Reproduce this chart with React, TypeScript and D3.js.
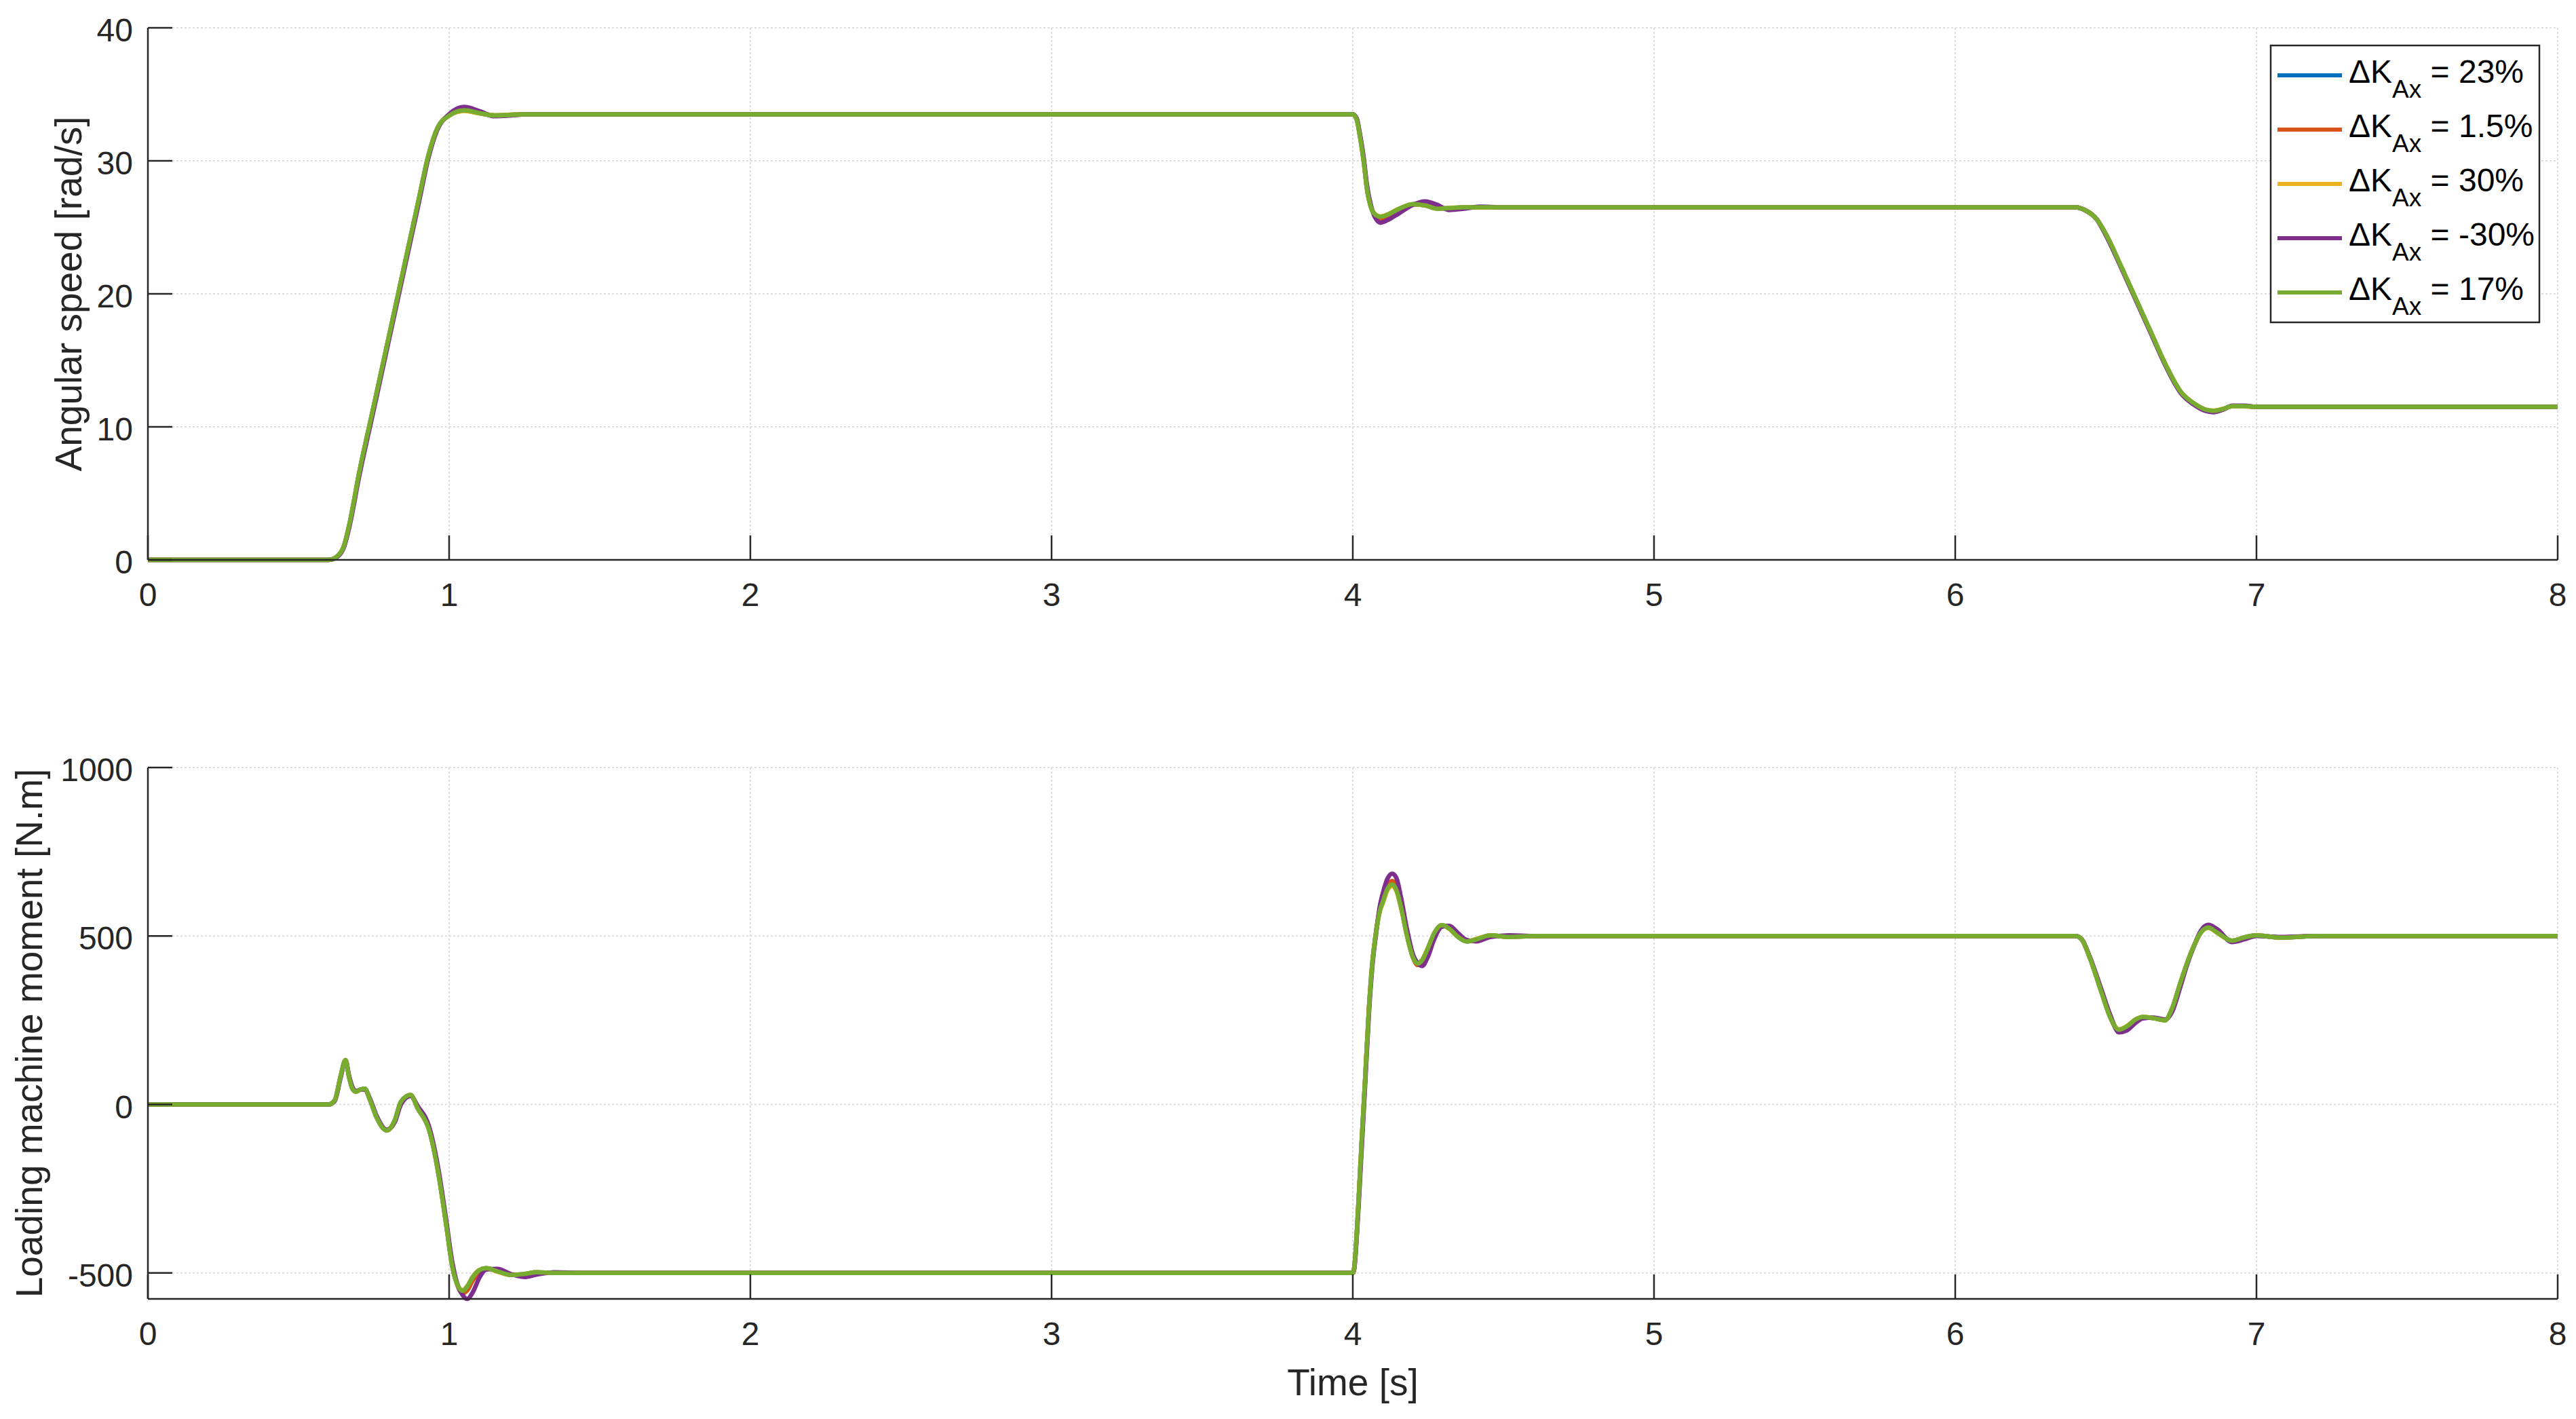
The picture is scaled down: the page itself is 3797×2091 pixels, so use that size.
import React from "react";
import * as d3 from "d3";

// ---------------- data ----------------
const seriesLabels = ["23%", "1.5%", "30%", "-30%", "17%"];
const seriesColors = ["#0072BD", "#D95319", "#EDB120", "#7E2F8E", "#77AC30"];

const xTicks = [0, 1, 2, 3, 4, 5, 6, 7, 8];
const speedTicks = [0, 10, 20, 30, 40];
const torqueTicks = [-500, 0, 500, 1000];
const speedDomain = [0, 40];
const torqueDomain = [-577, 1000];
const timeDomain = [0, 8];

const timeSpeed = [
  0, 0.6, 0.63, 0.65, 0.67, 0.7, 0.75, 0.8, 0.85, 0.9, 0.93, 0.96, 1.0, 1.05, 1.1, 1.15, 1.2, 1.25, 1.3,
  4.0, 4.013, 4.024, 4.036, 4.047, 4.062, 4.075, 4.092, 4.12, 4.15, 4.2, 4.24, 4.28, 4.32, 4.37, 4.42, 4.5,
  6.4, 6.43, 6.47, 6.5, 6.55, 6.6, 6.65, 6.7, 6.75, 6.79, 6.83, 6.856, 6.89, 6.92, 6.96, 7.0, 7.1, 8.0,
];

const speed23 = [
  0, 0, 0.3, 1.0, 2.8, 6.4, 11.6, 16.8, 22.0, 27.2, 30.3, 32.4, 33.4, 33.78, 33.58, 33.42, 33.46, 33.5, 33.5,
  33.5, 33.1, 31.8, 30.0, 27.9, 26.4, 25.92, 25.78, 25.98, 26.33, 26.74, 26.66, 26.42, 26.44, 26.5, 26.5, 26.5,
  26.5, 26.3, 25.6, 24.5, 22.1, 19.6, 17.1, 14.6, 12.6, 11.8, 11.3, 11.2, 11.35, 11.55, 11.55, 11.5, 11.5, 11.5,
];
const speed15 = [
  0, 0, 0.28, 0.95, 2.7, 6.3, 11.5, 16.7, 21.9, 27.1, 30.2, 32.35, 33.45, 33.9, 33.65, 33.4, 33.42, 33.5, 33.5,
  33.5, 33.15, 31.9, 30.1, 28.0, 26.45, 25.85, 25.65, 25.85, 26.2, 26.72, 26.75, 26.5, 26.4, 26.48, 26.52, 26.5,
  26.5, 26.3, 25.6, 24.45, 22.05, 19.55, 17.05, 14.55, 12.55, 11.75, 11.25, 11.15, 11.32, 11.57, 11.57, 11.5, 11.5, 11.5,
];
const speed30 = [
  0, 0, 0.3, 1.0, 2.8, 6.4, 11.6, 16.8, 22.0, 27.2, 30.3, 32.4, 33.4, 33.75, 33.57, 33.43, 33.47, 33.5, 33.5,
  33.5, 33.1, 31.8, 30.0, 27.9, 26.4, 25.97, 25.82, 26.02, 26.36, 26.74, 26.64, 26.42, 26.46, 26.5, 26.5, 26.5,
  26.5, 26.3, 25.6, 24.5, 22.1, 19.6, 17.1, 14.6, 12.6, 11.8, 11.3, 11.22, 11.36, 11.54, 11.54, 11.5, 11.5, 11.5,
];
const speedM30 = [
  0, 0, 0.25, 0.9, 2.6, 6.1, 11.3, 16.5, 21.7, 26.9, 30.1, 32.3, 33.5, 34.05, 33.75, 33.35, 33.4, 33.5, 33.5,
  33.5, 33.2, 32.0, 30.3, 28.2, 26.5, 25.7, 25.35, 25.6, 26.0, 26.7, 26.95, 26.7, 26.3, 26.4, 26.55, 26.5,
  26.5, 26.3, 25.6, 24.4, 22.0, 19.5, 17.0, 14.5, 12.5, 11.7, 11.2, 11.1, 11.3, 11.6, 11.6, 11.5, 11.5, 11.5,
];
const speed17 = [
  0, 0, 0.3, 1.0, 2.8, 6.4, 11.6, 16.8, 22.0, 27.2, 30.3, 32.4, 33.4, 33.8, 33.6, 33.4, 33.45, 33.5, 33.5,
  33.5, 33.1, 31.8, 30.0, 27.9, 26.4, 25.95, 25.8, 26.0, 26.35, 26.75, 26.65, 26.4, 26.45, 26.5, 26.5, 26.5,
  26.5, 26.3, 25.6, 24.5, 22.1, 19.6, 17.1, 14.6, 12.6, 11.8, 11.3, 11.2, 11.35, 11.55, 11.55, 11.5, 11.5, 11.5,
];

const timeTorque = [
  0, 0.6, 0.62, 0.64, 0.656, 0.668, 0.68, 0.691, 0.705, 0.72, 0.737, 0.76, 0.793, 0.82, 0.84, 0.872, 0.896,
  0.935, 0.966, 0.989, 1.011, 1.03, 1.045, 1.06, 1.08, 1.1, 1.123, 1.16, 1.205, 1.25, 1.29, 1.35, 1.45,
  4.0, 4.005, 4.012, 4.02, 4.03, 4.04, 4.054, 4.065, 4.077, 4.09, 4.1, 4.115, 4.131, 4.145, 4.16, 4.18, 4.2,
  4.215, 4.23, 4.25, 4.27, 4.295, 4.32, 4.35, 4.378, 4.41, 4.457, 4.52, 4.6,
  6.4, 6.42, 6.446, 6.484, 6.515, 6.543, 6.57, 6.6, 6.622, 6.66, 6.697, 6.72, 6.746, 6.77, 6.792, 6.815, 6.84,
  6.87, 6.919, 6.96, 7.0, 7.08, 7.2, 8.0,
];

const torque23 = [
  0, 0, 12, 85, 132, 80, 45, 38, 44, 47, 14, -40, -77, -46, 8, 28, -12, -80, -214, -349, -483, -540, -555,
  -542, -511, -492, -486, -495, -506, -503, -498, -500, -500,
  -500, -482, -400, -270, -100, 60, 290, 420, 510, 578, 604, 645, 656, 640, 588, 502, 436, 417, 426, 464, 507,
  532, 523, 497, 484, 490, 502, 497, 500,
  500, 490, 437, 337, 258, 221, 231, 252, 259, 256, 250, 285, 357, 420, 470, 510, 526, 511, 486, 496, 502, 495,
  500, 500,
];
const torque15 = [
  0, 0, 12, 84, 131, 82, 46, 39, 44, 46, 15, -39, -77, -48, 6, 27, -10, -78, -210, -345, -480, -542, -560,
  -552, -520, -498, -487, -492, -505, -505, -499, -500, -500,
  -500, -484, -405, -275, -105, 58, 292, 422, 512, 582, 612, 652, 663, 650, 595, 505, 436, 414, 420, 458, 502,
  530, 525, 500, 485, 488, 500, 498, 500,
  500, 490, 438, 339, 259, 218, 228, 250, 258, 257, 251, 282, 354, 419, 470, 512, 528, 514, 484, 494, 501, 496,
  500, 500,
];
const torque30 = [
  0, 0, 12, 85, 132, 80, 45, 38, 44, 47, 14, -40, -77, -46, 8, 28, -12, -80, -214, -349, -483, -539, -551,
  -539, -509, -491, -486, -496, -506, -503, -498, -500, -500,
  -500, -482, -400, -270, -100, 60, 290, 420, 508, 574, 598, 636, 648, 633, 584, 500, 437, 419, 429, 466, 508,
  532, 521, 497, 484, 491, 502, 497, 500,
  500, 490, 437, 337, 258, 223, 233, 253, 260, 256, 250, 285, 357, 420, 470, 509, 524, 509, 486, 496, 502, 495,
  500, 500,
];
const torqueM30 = [
  0, 0, 10, 80, 130, 85, 50, 40, 44, 45, 18, -35, -75, -52, 0, 25, -5, -70, -200, -335, -470, -540, -566,
  -577, -555, -515, -490, -488, -503, -512, -505, -498, -500,
  -500, -488, -410, -290, -125, 40, 275, 410, 505, 590, 628, 670, 685, 672, 615, 520, 445, 420, 411, 440, 490,
  527, 530, 508, 488, 484, 497, 502, 500,
  500, 490, 440, 345, 265, 214, 220, 243, 255, 258, 252, 275, 345, 415, 468, 515, 533, 520, 482, 490, 500, 497,
  500, 500,
];
const torque17 = [
  0, 0, 12, 85, 132, 80, 45, 38, 44, 47, 14, -40, -77, -46, 8, 28, -12, -80, -214, -349, -483, -540, -553,
  -540, -510, -492, -486, -495, -506, -503, -498, -500, -500,
  -500, -482, -400, -270, -100, 60, 290, 420, 510, 575, 602, 640, 653, 636, 586, 500, 436, 418, 428, 465, 508,
  532, 522, 497, 484, 490, 502, 497, 500,
  500, 490, 437, 337, 258, 222, 232, 253, 260, 256, 250, 285, 357, 420, 470, 510, 525, 510, 486, 496, 502, 495,
  500, 500,
];

const speedSeries = [speed23, speed15, speed30, speedM30, speed17];
const torqueSeries = [torque23, torque15, torque30, torqueM30, torque17];

// ---------------- layout ----------------
const W = 3797;
const H = 2091;
const left = 218;
const right = 3770;
const topPlot = { top: 41, bottom: 825 };
const botPlot = { top: 1131, bottom: 1914 };
const axisColor = "#262626";
const gridColor = "#dedede";
const font = "'Liberation Sans', Arial, Helvetica, sans-serif";
const tickFont = 48;
const labelFont = 55;
const tickLen = 36;
const lineW = 6.5;

function Panel({ yScale, xScale, yTicks, series, times, top, bottom, ylabel, ylabelX, clipId }: any) {
  const line = d3
    .line<number>()
    .x((_, i) => xScale(times[i]))
    .y((d) => yScale(d))
    .curve(d3.curveMonotoneX);
  return (
    <g>
      <defs>
        <clipPath id={clipId}>
          <rect x={left} y={top - 10} width={right - left} height={bottom - top + 20} />
        </clipPath>
      </defs>
      {/* grid */}
      {xTicks.map((t) => (
        <line key={"gx" + t} x1={xScale(t)} x2={xScale(t)} y1={top} y2={bottom} stroke={gridColor} strokeWidth={2} strokeDasharray="3 3" />
      ))}
      {yTicks.map((v: number) => (
        <line key={"gy" + v} x1={left} x2={right} y1={yScale(v)} y2={yScale(v)} stroke={gridColor} strokeWidth={2} strokeDasharray="3 3" />
      ))}
      {/* data */}
      <g clipPath={`url(#${clipId})`}>
        {series.map((vals: number[], i: number) => (
          <path key={"s" + i} d={line(vals) || ""} fill="none" stroke={seriesColors[i]} strokeWidth={lineW} strokeLinejoin="round" strokeLinecap="round" />
        ))}
      </g>
      {/* axes */}
      <line x1={left} x2={left} y1={top} y2={bottom} stroke={axisColor} strokeWidth={2.5} />
      <line x1={left} x2={right} y1={bottom} y2={bottom} stroke={axisColor} strokeWidth={2.5} />
      {xTicks.map((t) => (
        <g key={"tx" + t}>
          <line x1={xScale(t)} x2={xScale(t)} y1={bottom} y2={bottom - tickLen} stroke={axisColor} strokeWidth={2.5} />
          <text x={xScale(t)} y={bottom + 68} textAnchor="middle" fontSize={tickFont} fontFamily={font} fill={axisColor}>
            {t}
          </text>
        </g>
      ))}
      {yTicks.map((v: number) => (
        <g key={"ty" + v}>
          <line x1={left} x2={left + tickLen} y1={yScale(v)} y2={yScale(v)} stroke={axisColor} strokeWidth={2.5} />
          <text x={196} y={yScale(v) + 20} textAnchor="end" fontSize={tickFont} fontFamily={font} fill={axisColor}>
            {v}
          </text>
        </g>
      ))}
      <text
        transform={`translate(${ylabelX},${(top + bottom) / 2}) rotate(-90)`}
        textAnchor="middle"
        fontSize={labelFont}
        fontFamily={font}
        fill={axisColor}
      >
        {ylabel}
      </text>
    </g>
  );
}

export default function App() {
  const x = d3.scaleLinear().domain(timeDomain).range([left, right]);
  const ySpeed = d3.scaleLinear().domain(speedDomain).range([topPlot.bottom, topPlot.top]);
  const yTorque = d3.scaleLinear().domain(torqueDomain).range([botPlot.bottom, botPlot.top]);

  const legX = 3347;
  const legY = 67;
  const legW = 396;
  const legH = 408;
  const legStep = 80;

  return (
    <svg width={W} height={H} style={{ position: "absolute", left: 0, top: 0, background: "#fff" }}>
      <rect x={0} y={0} width={W} height={H} fill="#fff" />
      <Panel
        xScale={x}
        yScale={ySpeed}
        yTicks={speedTicks}
        series={speedSeries}
        times={timeSpeed}
        top={topPlot.top}
        bottom={topPlot.bottom}
        ylabel="Angular speed [rad/s]"
        ylabelX={120}
        clipId="clipTop"
      />
      <Panel
        xScale={x}
        yScale={yTorque}
        yTicks={torqueTicks}
        series={torqueSeries}
        times={timeTorque}
        top={botPlot.top}
        bottom={botPlot.bottom}
        ylabel="Loading machine moment [N.m]"
        ylabelX={62}
        clipId="clipBot"
      />
      <text x={(left + right) / 2} y={2056} textAnchor="middle" fontSize={labelFont} fontFamily={font} fill={axisColor}>
        Time [s]
      </text>
      {/* legend */}
      <rect x={legX} y={legY} width={legW} height={legH} fill="#fff" stroke={axisColor} strokeWidth={2.5} />
      {seriesLabels.map((lab, i) => {
        const yy = legY + 44 + i * legStep;
        return (
          <g key={"leg" + i}>
            <line x1={legX + 10} x2={legX + 105} y1={yy} y2={yy} stroke={seriesColors[i]} strokeWidth={6} />
            <text x={legX + 115} y={yy + 11} fontSize={48} fontFamily={font} fill="#000" style={{ whiteSpace: "pre" }}>
              <tspan>ΔK</tspan>
              <tspan fontSize={37} dy={22}>Ax</tspan>
              <tspan dy={-22}>{" = " + lab}</tspan>
            </text>
          </g>
        );
      })}
    </svg>
  );
}
